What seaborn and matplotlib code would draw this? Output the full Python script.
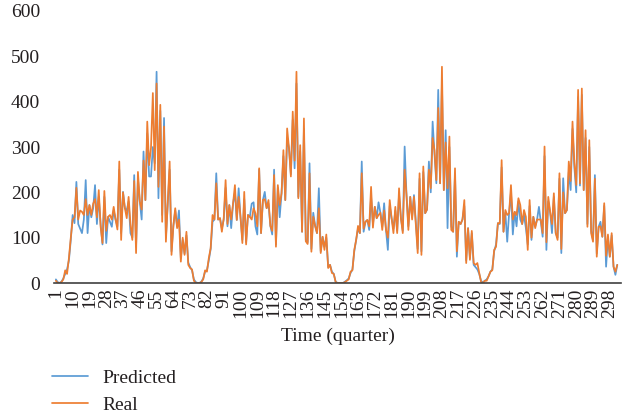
import matplotlib
matplotlib.use("Agg")
import matplotlib.pyplot as plt
from matplotlib.lines import Line2D
import pandas as pd
import seaborn as sns

# Quarterly values, quarters 1..302
quarters = list(range(1, 303))

real = [
    5, 0, 0, 2, 8, 28, 20, 55, 100, 140,
    145, 210, 140, 160, 157, 150, 185, 150, 172, 150,
    175, 185, 145, 205, 124, 88, 203, 115, 146, 150,
    140, 168, 140, 118, 268, 95, 200, 165, 143, 190,
    130, 95, 225, 66, 245, 180, 162, 270, 183, 356,
    260, 298, 419, 249, 440, 212, 393, 135, 345, 91,
    180, 268, 62, 126, 165, 121, 140, 47, 100, 62,
    113, 40, 33, 30, 5, 0, 0, 0, 2, 8,
    28, 25, 55, 77, 150, 140, 220, 140, 143, 113,
    143, 227, 130, 172, 140, 175, 216, 139, 190, 145,
    88, 201, 85, 150, 146, 140, 165, 154, 125, 253,
    110, 183, 185, 165, 183, 126, 115, 238, 80, 216,
    172, 198, 293, 183, 341, 297, 235, 378, 270, 466,
    187, 304, 113, 363, 92, 86, 242, 69, 146, 126,
    110, 165, 66, 102, 73, 107, 33, 40, 22, 20,
    2, 0, 0, 0, 0, 2, 5, 8, 25, 28,
    73, 95, 126, 110, 242, 120, 135, 139, 125, 212,
    122, 168, 143, 150, 155, 117, 160, 117, 100, 183,
    143, 110, 168, 110, 209, 143, 110, 250, 194, 117,
    190, 140, 190, 129, 66, 242, 62, 257, 154, 162,
    250, 209, 320, 293, 227, 386, 220, 477, 205, 310,
    209, 323, 117, 113, 253, 70, 135, 130, 140, 183,
    44, 121, 51, 115, 44, 40, 44, 22, 2, 0,
    5, 5, 15, 25, 28, 73, 80, 132, 132, 271,
    113, 161, 150, 154, 216, 140, 157, 150, 187, 172,
    130, 161, 146, 73, 183, 100, 146, 121, 140, 140,
    140, 110, 301, 90, 190, 157, 130, 198, 110, 95,
    242, 75, 200, 154, 161, 268, 225, 356, 264, 216,
    426, 220, 429, 205, 337, 124, 315, 110, 91, 230,
    58, 124, 125, 102, 176, 60, 107, 58, 110, 36,
    25, 40,
]

predicted = [
    8, 2, 0, 3, 10, 20, 30, 50, 95, 150,
    132, 223, 130, 120, 110, 140, 227, 110, 172, 145,
    165, 216, 130, 190, 130, 85, 190, 88, 146, 135,
    124, 160, 140, 125, 250, 110, 201, 165, 160, 180,
    110, 100, 238, 80, 230, 180, 140, 290, 183, 330,
    235, 235, 300, 264, 466, 187, 380, 150, 364, 100,
    175, 250, 70, 126, 160, 125, 160, 55, 95, 65,
    105, 45, 35, 28, 8, 2, 0, 0, 3, 10,
    25, 28, 50, 75, 135, 140, 242, 140, 143, 120,
    140, 210, 125, 172, 121, 175, 200, 139, 209, 145,
    95, 185, 90, 150, 146, 175, 178, 125, 107, 250,
    110, 183, 201, 165, 175, 126, 107, 250, 85, 210,
    145, 198, 280, 183, 320, 297, 240, 360, 253, 440,
    190, 290, 113, 340, 95, 90, 264, 75, 155, 126,
    110, 209, 70, 102, 80, 100, 35, 40, 25, 20,
    3, 0, 0, 0, 0, 3, 6, 10, 22, 30,
    70, 95, 120, 110, 268, 113, 135, 139, 117, 190,
    130, 168, 143, 178, 155, 125, 176, 117, 73, 170,
    143, 120, 160, 115, 195, 143, 115, 301, 194, 125,
    190, 146, 194, 135, 75, 230, 70, 245, 154, 162,
    268, 200, 356, 285, 220, 426, 220, 440, 205, 337,
    121, 300, 125, 113, 240, 58, 135, 130, 140, 170,
    50, 121, 55, 110, 40, 35, 30, 20, 4, 2,
    5, 8, 15, 25, 30, 70, 85, 132, 130, 255,
    113, 155, 91, 154, 200, 107, 157, 125, 180, 140,
    130, 150, 121, 85, 170, 95, 146, 125, 140, 168,
    135, 102, 280, 73, 180, 157, 110, 190, 110, 100,
    230, 66, 231, 154, 161, 245, 205, 340, 255, 200,
    410, 215, 415, 205, 320, 130, 300, 115, 95, 238,
    65, 124, 135, 102, 170, 36, 100, 58, 105, 36,
    18, 40,
]

series_names = ["Predicted", "Real"]
series_colors = {"Predicted": "#5B9BD5", "Real": "#ED7D31"}
x_ticks = list(range(1, 299, 9))
y_ticks = [0, 100, 200, 300, 400, 500, 600]

df = pd.DataFrame({
    "Quarter": quarters * 2,
    "Value": predicted + real,
    "Series": ["Predicted"] * len(predicted) + ["Real"] * len(real),
})

sns.set_theme(style="white")
plt.rcParams["font.family"] = ["Liberation Serif", "DejaVu Serif"]

text_color = "#231f20"
fs = 14

fig = plt.figure(figsize=(6.33, 4.19), dpi=100)
ax = fig.add_axes([54 / 633, 1 - 283 / 419, 567 / 633, 272 / 419])

sns.lineplot(data=df, x="Quarter", y="Value", hue="Series",
             hue_order=series_names, palette=series_colors,
             linewidth=1.25, ax=ax, legend=False)

ax.set_xlim(0, 304)
ax.set_ylim(0, 600)
ax.set_xticks(x_ticks)
ax.set_xticklabels([str(t) for t in x_ticks], rotation=90, fontsize=fs,
                   color=text_color)
ax.set_yticks(y_ticks)
ax.set_yticklabels([str(t) for t in y_ticks], fontsize=fs, color=text_color)
ax.tick_params(axis="x", length=0, pad=4)
ax.tick_params(axis="y", length=0, pad=10)
ax.set_xlabel("Time (quarter)", fontsize=fs, color=text_color, labelpad=7)
ax.set_ylabel("")

for side in ["top", "right", "left"]:
    ax.spines[side].set_visible(False)
ax.spines["bottom"].set_color("#404040")
ax.spines["bottom"].set_linewidth(1.2)
ax.grid(False)

handles = [Line2D([0], [0], color=series_colors[n], linewidth=1.25)
           for n in series_names]
fig.legend(handles, series_names, loc="upper left",
           bbox_to_anchor=(52 / 633, 1 - 369 / 419), frameon=False,
           fontsize=fs, handlelength=1.85, handletextpad=0.75,
           labelspacing=0.5, borderpad=0, borderaxespad=0,
           labelcolor=text_color)

fig.savefig("out.png", dpi=100)
